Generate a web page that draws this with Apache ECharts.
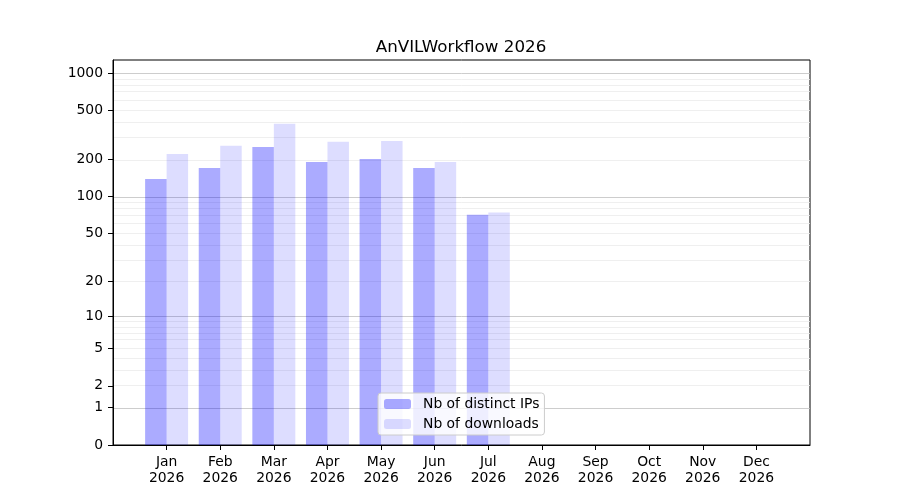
<!DOCTYPE html>
<html>
<head>
<meta charset="utf-8">
<script src="https://cdn.jsdelivr.net/npm/echarts@6/dist/echarts.min.js"></script>
<style>
  html, body { margin: 0; padding: 0; background: #fff; }
  #main { width: 900px; height: 500px; }
</style>
</head>
<body>
<div id="main"></div>
<script>
var months = ['Jan', 'Feb', 'Mar', 'Apr', 'May', 'Jun', 'Jul', 'Aug', 'Sep', 'Oct', 'Nov', 'Dec'];
var year = '2026';
var distinctIPs = [139, 171, 253, 191, 202, 171, 71, null, null, null, null, null];
var downloads = [222, 258, 389, 278, 283, 191, 74, null, null, null, null, null];
var yTicks = [0, 1, 2, 5, 10, 20, 50, 100, 200, 500, 1000];
var yTop = 1275;

// y axis is log10(1 + v), like the matplotlib function scale
function fwd(v) { return Math.log10(1 + v); }
function inv(t) { return Math.pow(10, t) - 1; }

// empty category at each end gives the matplotlib margins
var cats = [''].concat(months.map(function (m) { return m + '\n' + year; })).concat(['']);
function pad(arr) {
    var out = ['-'];
    arr.forEach(function (v) { out.push(v == null ? '-' : fwd(v)); });
    out.push('-');
    return out;
}

var majorLines = [1, 10, 100, 1000];
var minorLines = [];
[1, 10, 100].forEach(function (d) {
    for (var k = 2; k <= 9; k++) minorLines.push(k * d);
});

var gridMarks = [];
minorLines.forEach(function (v) {
    gridMarks.push({ yAxis: fwd(v), lineStyle: { color: '#ebebeb', width: 0.8, type: 'solid' } });
});
majorLines.forEach(function (v) {
    gridMarks.push({ yAxis: fwd(v), lineStyle: { color: '#c0c0c0', width: 0.8, type: 'solid' } });
});

var font = 'DejaVu Sans';
var chart = echarts.init(document.getElementById('main'), null, { renderer: 'canvas' });

var option = {
    animation: false,
    title: {
        text: 'AnVILWorkflow ' + year,
        left: 456,
        textAlign: 'center',
        top: 34,
        textStyle: { fontFamily: font, fontSize: 16.7, fontWeight: 'normal', color: '#000' }
    },
    legend: {
        data: ['Nb of distinct IPs', 'Nb of downloads'],
        orient: 'vertical',
        left: 378,
        top: 393,
        padding: [4, 5, 4, 6],
        itemGap: 6,
        itemWidth: 27,
        itemHeight: 10,
        backgroundColor: 'rgba(255,255,255,0.8)',
        borderColor: '#cccccc',
        borderWidth: 1,
        borderRadius: 3,
        textStyle: { fontFamily: font, fontSize: 13.9, color: '#000', padding: [0, 0, 0, 7] }
    },
    grid: {
        left: 113,
        right: 90,
        top: 60,
        bottom: 55,
        show: true,
        borderColor: '#000',
        borderWidth: 1,
        backgroundColor: 'transparent'
    },
    xAxis: {
        type: 'category',
        data: cats,
        boundaryGap: false,
        axisLine: { lineStyle: { color: '#000', width: 1 } },
        axisTick: {
            length: 5,
            lineStyle: { color: '#000' },
            interval: function (i) { return i > 0 && i < cats.length - 1; }
        },
        axisLabel: {
            interval: 0,
            margin: 9,
            fontFamily: font,
            fontSize: 13.9,
            lineHeight: 16,
            color: '#000'
        },
        splitLine: { show: false }
    },
    yAxis: {
        type: 'value',
        min: 0,
        max: fwd(yTop),
        axisLine: { show: true, lineStyle: { color: '#000', width: 1 } },
        axisTick: {
            show: true,
            length: 5,
            lineStyle: { color: '#000' },
            customValues: yTicks.map(fwd)
        },
        axisLabel: {
            margin: 10,
            fontFamily: font,
            fontSize: 13.9,
            color: '#000',
            customValues: yTicks.map(fwd),
            formatter: function (t) { return String(Math.round(inv(t))); }
        },
        splitLine: { show: false }
    },
    series: [
        {
            name: 'grid',
            type: 'line',
            data: [],
            z: 0,
            silent: true,
            markLine: {
                silent: true,
                z: 0,
                symbol: 'none',
                label: { show: false },
                data: gridMarks
            }
        },
        {
            name: 'Nb of distinct IPs',
            type: 'bar',
            z: 3,
            barWidth: 21.5,
            barGap: '0%',
            itemStyle: { color: 'rgba(0,0,255,0.33)' },
            data: pad(distinctIPs)
        },
        {
            name: 'Nb of downloads',
            type: 'bar',
            z: 3,
            barWidth: 21.5,
            barGap: '0%',
            itemStyle: { color: 'rgba(0,0,255,0.135)' },
            data: pad(downloads)
        }
    ]
};

chart.setOption(option);
</script>
</body>
</html>
